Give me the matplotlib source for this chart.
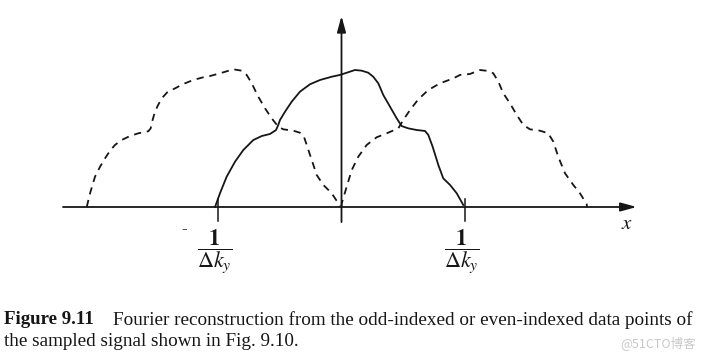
import numpy as np
import matplotlib.pyplot as plt

plt.rcParams['mathtext.fontset'] = 'stix'

# Positions in units of 1/dk_y, heights relative to the peak
solid_x = [-1.024, -0.984, -0.930, -0.862, -0.795, -0.714, -0.646, -0.579, -0.530, -0.512,
           -0.498, -0.457, -0.403, -0.336, -0.255, -0.174, -0.079, -0.012, 0.042, 0.109,
           0.164, 0.217, 0.257, 0.298, 0.338, 0.393, 0.447, 0.487, 0.541, 0.609,
           0.676, 0.703, 0.738, 0.784, 0.824, 0.879, 0.933, 0.986]
solid_y = [0.000, 0.100, 0.221, 0.331, 0.416, 0.489, 0.518, 0.533, 0.562, 0.599,
           0.635, 0.696, 0.769, 0.842, 0.896, 0.927, 0.951, 0.964, 0.980, 1.000,
           0.995, 0.980, 0.951, 0.903, 0.818, 0.732, 0.647, 0.591, 0.574, 0.562,
           0.555, 0.526, 0.440, 0.307, 0.209, 0.161, 0.100, 0.015]

left_x = [-2.063, -2.036, -1.996, -1.955, -1.915, -1.874, -1.834, -1.780, -1.713, -1.645,
          -1.564, -1.545, -1.537, -1.518, -1.492, -1.456, -1.411, -1.348, -1.281, -1.200,
          -1.119, -1.065, -0.984, -0.876, -0.808, -0.768, -0.727, -0.674, -0.619, -0.565,
          -0.512, -0.471, -0.390, -0.336, -0.304, -0.277, -0.241, -0.201, -0.147, -0.079,
          -0.026, -0.012]
left_y = [0.000, 0.100, 0.221, 0.294, 0.355, 0.411, 0.453, 0.489, 0.518, 0.538,
          0.553, 0.574, 0.611, 0.672, 0.732, 0.793, 0.837, 0.866, 0.898, 0.927,
          0.947, 0.956, 0.976, 1.005, 0.995, 0.964, 0.903, 0.805, 0.720, 0.647,
          0.586, 0.567, 0.557, 0.542, 0.513, 0.440, 0.343, 0.234, 0.161, 0.100,
          0.027, 0.002]

right_x = [0.000, 0.002, 0.042, 0.083, 0.136, 0.204, 0.285, 0.366, 0.460, 0.500,
           0.555, 0.622, 0.703, 0.798, 0.905, 0.960, 1.040, 1.121, 1.189, 1.229,
           1.270, 1.310, 1.364, 1.419, 1.472, 1.526, 1.607, 1.674, 1.715, 1.755,
           1.810, 1.877, 1.931, 1.985, 1.988]
right_y = [0.000, 0.027, 0.148, 0.270, 0.367, 0.453, 0.509, 0.538, 0.574, 0.635,
           0.708, 0.786, 0.854, 0.903, 0.939, 0.964, 0.971, 1.000, 0.993, 0.976,
           0.915, 0.830, 0.757, 0.672, 0.599, 0.567, 0.557, 0.538, 0.477, 0.367,
           0.246, 0.161, 0.100, 0.022, 0.000]

tick_pos = [-1, 1]
tick_labels = [r'$\dfrac{\mathbf{1}}{\Delta k_y}$', r'$\dfrac{\mathbf{1}}{\Delta k_y}$']
caption_bold = 'Figure 9.11'
caption_line1 = 'Fourier reconstruction from the odd-indexed or even-indexed data points of'
caption_line2 = 'the sampled signal shown in Fig. 9.10.'
watermark = '@51CTO博客'

ink = '#161616'

fig = plt.figure(figsize=(7.05, 3.64), dpi=100)
ax = fig.add_axes([0, 0, 1, 1])
ax.set_xlim(-341.5 / 123.5, (705 - 341.5) / 123.5)
ax.set_ylim((207 - 364) / 137, 207 / 137)
ax.axis('off')

# axes with arrow heads
arrow = dict(arrowstyle='-|>,head_length=0.8,head_width=0.22', lw=1.3,
             color=ink, mutation_scale=12, shrinkA=0, shrinkB=0)
ax.annotate('', xy=(2.39, 0), xytext=(-2.255, 0), arrowprops=arrow)
ax.annotate('', xy=(0, 1.394), xytext=(0, -0.11), arrowprops=arrow)

# tick marks
for t in tick_pos:
    ax.plot([t, t], [0.06, -0.10], color=ink, lw=1.1)

ax.plot(solid_x, solid_y, color=ink, lw=1.3, solid_joinstyle='round')
ax.plot(left_x, left_y, color=ink, lw=1.3, ls=(0, (4.0, 3.2)), dash_joinstyle='round')
ax.plot(right_x, right_y, color=ink, lw=1.3, ls=(0, (4.0, 3.2)), dash_joinstyle='round')

for t, lab in zip(tick_pos, tick_labels):
    ax.annotate(lab, xy=(t, 0), xytext=(-3, -45), textcoords='offset pixels',
                ha='center', va='center', fontsize=16, color=ink)
ax.annotate('-', xy=(tick_pos[0], 0), xytext=(-34, -22), textcoords='offset pixels',
            ha='center', va='center', fontsize=12, color=ink, family='Liberation Serif')

ax.annotate('$x$', xy=(2.39, 0), xytext=(-10, -16), textcoords='offset pixels',
            ha='center', va='center', fontsize=15, color=ink)

# caption
fig.text(4 / 705, 1 - 320 / 364, caption_bold, ha='left', va='center',
         family='Liberation Serif', fontweight='bold', fontsize=13.6, color=ink)
fig.text(113 / 705, 1 - 320 / 364, caption_line1, ha='left', va='center',
         family='Liberation Serif', fontsize=13.8, color=ink)
fig.text(4 / 705, 1 - 342 / 364, caption_line2, ha='left', va='center',
         family='Liberation Serif', fontsize=13.8, color=ink)
fig.text(696 / 705, 1 - 343 / 364, watermark, ha='right', va='center',
         family=['Noto Sans CJK SC', 'DejaVu Sans'], fontsize=9, color='#c8c8c8')

fig.savefig('out.png', dpi=100, facecolor='white')
